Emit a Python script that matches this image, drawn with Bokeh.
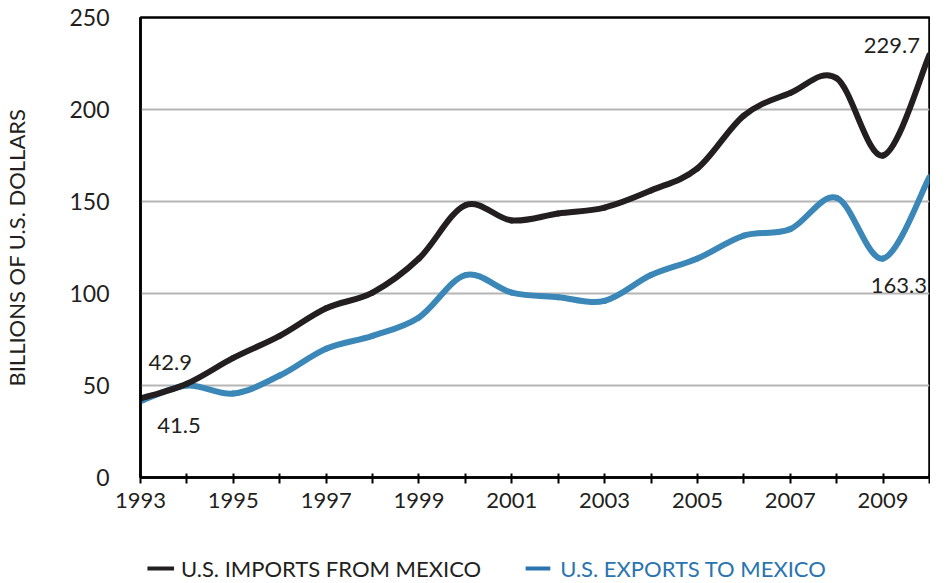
from bokeh.plotting import figure
from bokeh.layouts import column
from bokeh.models import Label, FixedTicker, Range1d
from bokeh.core.properties import value
from bokeh.embed import file_html
from bokeh.resources import INLINE

# ---- data (billions of U.S. dollars) ----
years = [1993, 1994, 1995, 1996, 1997, 1998, 1999, 2000, 2001, 2002,
         2003, 2004, 2005, 2006, 2007, 2008, 2009, 2010]
imports = [42.9, 51, 65, 77, 92, 100.5, 119, 148, 139.7, 143.5,
           146.7, 156, 168, 196.7, 209, 217, 175, 229.7]
exports = [41.5, 50, 45.6, 55.4, 70, 77, 87, 110, 100.5, 98,
           96, 110, 119, 131.5, 135, 152, 119, 163.3]
x_tick_years = list(range(1993, 2011))
x_label_years = [1993, 1995, 1997, 1999, 2001, 2003, 2005, 2007, 2009]
y_ticks = [0, 50, 100, 150, 200, 250]
series_names = ["U.S. IMPORTS FROM MEXICO", "U.S. EXPORTS TO MEXICO"]

BLACK = "#231f20"
BLUE = "#3a87b8"
BLUE_TEXT = "#2a74b0"
FONT = "Lato"

p = figure(width=930, height=530, output_backend="svg", toolbar_location=None,
           x_range=Range1d(1993, 2010), y_range=Range1d(0, 250),
           min_border_left=130, min_border_right=1, min_border_top=17,
           min_border_bottom=53)
p.outline_line_color = "black"
p.outline_line_width = 2.5
p.background_fill_color = "white"
p.border_fill_color = "white"

# grid
p.xgrid.visible = False
p.ygrid.ticker = FixedTicker(ticks=[50, 100, 150, 200])
p.ygrid.grid_line_color = "#b5b5b5"
p.ygrid.grid_line_width = 2

# x axis
p.xaxis.ticker = FixedTicker(ticks=x_tick_years)
p.xaxis.major_label_overrides = {y: (str(y) if y in x_label_years else "") for y in x_tick_years}
p.xaxis.major_tick_in = 4
p.xaxis.major_tick_out = 6
p.xaxis.major_tick_line_width = 2
p.xaxis.major_tick_line_color = "black"
p.xaxis.minor_tick_line_color = None
p.xaxis.axis_line_color = "black"
p.xaxis.axis_line_width = 2.5
p.xaxis.major_label_text_font = FONT
p.xaxis.major_label_text_font_size = "22px"
p.xaxis.major_label_text_color = BLACK
p.xaxis.major_label_standoff = 9

# y axis
p.yaxis.ticker = FixedTicker(ticks=y_ticks)
p.yaxis.major_tick_in = 0
p.yaxis.major_tick_out = 0
p.yaxis.minor_tick_line_color = None
p.yaxis.axis_line_color = "black"
p.yaxis.axis_line_width = 2.5
p.yaxis.major_label_text_font = FONT
p.yaxis.major_label_text_font_size = "23px"
p.yaxis.major_label_text_color = BLACK
p.yaxis.major_label_standoff = 31
p.yaxis.axis_label = "BILLIONS OF U.S. DOLLARS"
p.yaxis.axis_label_text_font = FONT
p.yaxis.axis_label_text_font_size = "22px"
p.yaxis.axis_label_text_font_style = "normal"
p.yaxis.axis_label_text_color = BLACK
p.yaxis.axis_label_standoff = 36


def smooth_segments(xs, ys):
    """Bezier control points (Catmull-Rom) through the given data points."""
    n = len(xs)
    x0, y0, x1, y1, cx0, cy0, cx1, cy1 = ([] for _ in range(8))
    for i in range(n - 1):
        im1 = max(i - 1, 0)
        ip2 = min(i + 2, n - 1)
        x0.append(xs[i]); y0.append(ys[i])
        x1.append(xs[i + 1]); y1.append(ys[i + 1])
        cx0.append(xs[i] + (xs[i + 1] - xs[im1]) / 6)
        cy0.append(ys[i] + (ys[i + 1] - ys[im1]) / 6)
        cx1.append(xs[i + 1] - (xs[ip2] - xs[i]) / 6)
        cy1.append(ys[i + 1] - (ys[ip2] - ys[i]) / 6)
    return dict(x0=x0, y0=y0, x1=x1, y1=y1, cx0=cx0, cy0=cy0, cx1=cx1, cy1=cy1)


for series, color in ((exports, BLUE), (imports, BLACK)):
    seg = smooth_segments(years, series)
    p.bezier(x0=seg["x0"], y0=seg["y0"], x1=seg["x1"], y1=seg["y1"],
             cx0=seg["cx0"], cy0=seg["cy0"], cx1=seg["cx1"], cy1=seg["cy1"],
             line_color=color, line_width=6, line_cap="round")


# value annotations
def ann(x, y, txt):
    p.add_layout(Label(x=x, y=y, text=txt, text_font=FONT, text_font_size="22px",
                       text_color=BLACK, text_align="center", text_baseline="middle"))


ann(1993.64, 62.5, f"{imports[0]}")
ann(1993.83, 28.3, f"{exports[0]}")
ann(2009.19, 234.8, f"{imports[-1]}")
ann(2009.34, 104.3, f"{exports[-1]}")

# ---- legend strip (separate figure so texts can have their own colours) ----
# its frame is aligned with the main figure's frame by the column layout,
# so its x range is expressed in canvas pixels of that frame (130..929)
lg = figure(width=930, height=52, output_backend="svg", toolbar_location=None,
            x_range=Range1d(130, 929), y_range=Range1d(0, 52),
            x_axis_type=None, y_axis_type=None,
            min_border=0, min_border_left=130, min_border_right=1,
            min_border_top=0, min_border_bottom=0)
lg.grid.visible = False
lg.outline_line_color = None
lg.background_fill_color = "white"
lg.border_fill_color = "white"

lg.segment(x0=[137, 520], y0=[14, 14], x1=[164, 545], y1=[14, 14],
           line_color=[BLACK, BLUE_TEXT], line_width=4)
lg.text(x=[171], y=[14], text=[series_names[0]], text_font=value(FONT),
        text_font_size="22px", text_color=BLACK, text_baseline="middle")
lg.text(x=[555], y=[14], text=[series_names[1]], text_font=value(FONT),
        text_font_size="22px", text_color=BLUE_TEXT, text_baseline="middle")

layout = column(p, lg, spacing=0)
open("out.html", "w").write(file_html(layout, INLINE))
